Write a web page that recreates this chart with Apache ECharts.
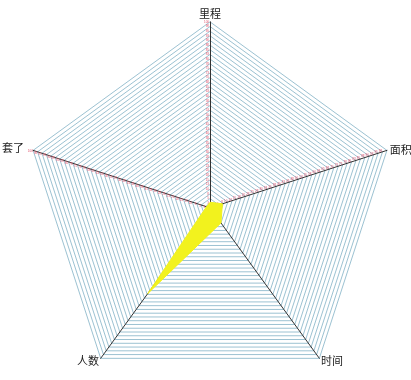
<!DOCTYPE html>
<html>
<head>
<meta charset="utf-8">
<script src="https://cdn.jsdelivr.net/npm/echarts@6/dist/echarts.min.js"></script>
<style>
  html, body { margin: 0; padding: 0; background: #fff; }
  #chart { width: 411px; height: 380px; }
</style>
</head>
<body>
<div id="chart"></div>
<script>
// indicators in ECharts order (counter-clockwise from the top)
var names = ["里程", "套了", "人数", "时间", "面积"];
var maxValues = [100, 100, 100, 100, 100];
var values = [3, 2, 57, 10, 7];
var showLabels = [true, true, false, false, true];
var ringCount = 40;

var chart = echarts.init(document.getElementById("chart"));

var indicator = names.map(function(n, i) {
  return { name: n, max: maxValues[i], min: 0, axisLabel: { show: showLabels[i] } };
});

chart.setOption({
  backgroundColor: "#ffffff",
  animation: false,
  radar: {
    center: ["51.1%", "54.7%"],
    radius: 186,
    startAngle: 90,
    splitNumber: ringCount,
    shape: "polygon",
    indicator: indicator,
    nameGap: 3,
    axisName: {
      color: "#222222",
      fontSize: 11,
      fontFamily: "Noto Sans CJK SC"
    },
    axisLine: {
      lineStyle: { color: "#333333", width: 1 }
    },
    axisTick: { show: false },
    axisLabel: {
      show: true,
      color: "#e0506a",
      fontSize: 3,
      margin: 1,
      formatter: function(v) { return Math.round(v); }
    },
    splitLine: {
      lineStyle: { color: "#9cc2d2", width: 1 }
    },
    splitArea: { show: false }
  },
  series: [
    {
      type: "radar",
      symbol: "none",
      data: [
        {
          value: values,
          lineStyle: { color: "#f2f21e", width: 1 },
          areaStyle: { color: "#f2f21e", opacity: 1 }
        }
      ]
    }
  ]
});
</script>
</body>
</html>
